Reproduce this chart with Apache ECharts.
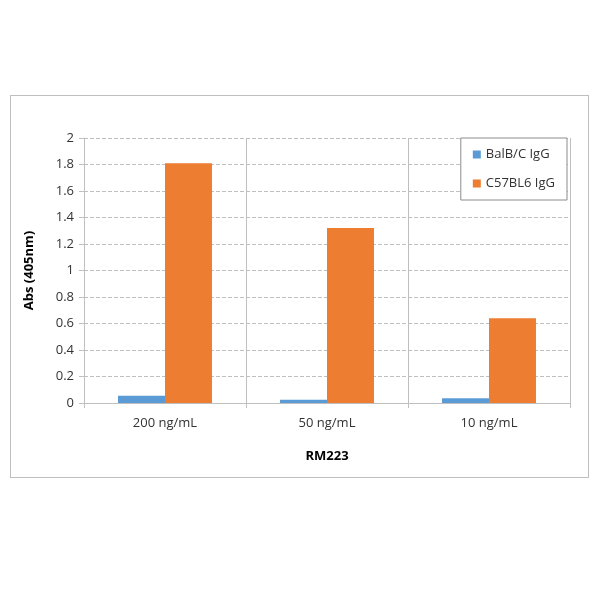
<!DOCTYPE html>
<html>
<head>
<meta charset="utf-8">
<script src="https://cdn.jsdelivr.net/npm/echarts@6/dist/echarts.min.js"></script>
<style>
html,body{margin:0;padding:0;background:#fff;}
#frame{position:absolute;left:10px;top:95px;width:579px;height:383px;border:1px solid #bfbfbf;box-sizing:border-box;}
#chart{position:absolute;left:0;top:0;width:600px;height:600px;}
</style>
</head>
<body>
<div id="frame"></div>
<div id="chart"></div>
<script>
// 数据
var categories = ['200 ng/mL', '50 ng/mL', '10 ng/mL'];
var balbValues = [0.055, 0.025, 0.035];
var c57Values = [1.81, 1.32, 0.64];
var yTicks = [0, 0.2, 0.4, 0.6, 0.8, 1, 1.2, 1.4, 1.6, 1.8, 2];

var chart = echarts.init(document.getElementById('chart'));
var font = 'Open Sans, Liberation Sans, sans-serif';
var option = {
    animation: false,
    textStyle: {fontFamily: font},
    grid: {left: 84, right: 30, top: 138, bottom: 197},
    legend: {
        orient: 'vertical',
        right: 33, top: 138,
        itemWidth: 8, itemHeight: 8, itemGap: 16,
        padding: [10, 12, 10, 12],
        borderColor: '#8c8c8c', borderWidth: 1,
        backgroundColor: '#fff',
        icon: 'rect',
        textStyle: {fontSize: 13, color: '#333', fontFamily: font},
        data: ['BalB/C IgG', 'C57BL6 IgG']
    },
    xAxis: {
        type: 'category',
        data: categories,
        name: 'RM223',
        nameLocation: 'middle',
        nameGap: 47,
        nameTextStyle: {fontWeight: 'bold', fontSize: 13, color: '#000'},
        axisLine: {lineStyle: {color: '#bfbfbf'}},
        axisTick: {show: true, length: 5, lineStyle: {color: '#bfbfbf'}},
        axisLabel: {fontSize: 13, color: '#333', margin: 14},
        splitLine: {show: true, lineStyle: {color: '#bfbfbf'}}
    },
    yAxis: {
        type: 'value',
        min: yTicks[0], max: yTicks[yTicks.length - 1], interval: 0.2,
        name: 'Abs (405nm)',
        nameLocation: 'middle',
        nameGap: 48,
        nameTextStyle: {fontWeight: 'bold', fontSize: 13, color: '#000'},
        axisLine: {show: true, lineStyle: {color: '#bfbfbf'}},
        axisTick: {show: true, length: 5, lineStyle: {color: '#bfbfbf'}},
        axisLabel: {fontSize: 13, color: '#333', margin: 10},
        splitLine: {lineStyle: {color: '#bfbfbf', type: 'dashed'}}
    },
    series: [
        {name: 'BalB/C IgG', type: 'bar', data: balbValues, barGap: 0, barCategoryGap: '42%', itemStyle: {color: '#5b9bd5'}},
        {name: 'C57BL6 IgG', type: 'bar', data: c57Values, itemStyle: {color: '#ed7d31'}}
    ]
};
chart.setOption(option);
</script>
</body>
</html>
